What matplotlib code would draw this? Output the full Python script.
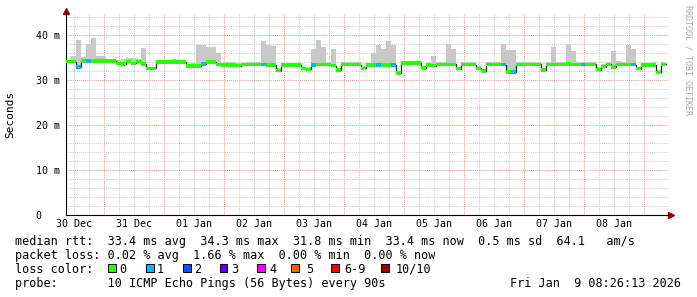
import numpy as np
import pandas as pd
import matplotlib
matplotlib.use("Agg")
import matplotlib.pyplot as plt
import matplotlib.transforms as mtransforms
from matplotlib.patches import Rectangle

# Median RTT per 2 hour bin (ms), 30 Dec 08:48 -> 09 Jan 08:48
median_ms = [
    34.1, 34.1, 32.9, 34.2, 34.2, 34.2, 34.2, 34.2, 34.2, 34.2,
    33.7, 33.6, 34.1, 33.7, 34.1, 33.6, 32.6, 32.6, 34.0, 34.0,
    34.0, 34.0, 34.0, 34.0, 33.1, 33.1, 33.1, 33.6, 34.0, 34.0,
    33.4, 33.3, 33.3, 33.3, 33.2, 33.4, 33.5, 33.5, 33.5, 33.4,
    33.3, 33.3, 32.1, 33.3, 33.3, 33.3, 33.3, 32.5, 32.4, 33.3,
    33.4, 33.4, 33.4, 33.2, 32.2, 33.4, 33.4, 33.4, 33.4, 32.6,
    33.3, 33.3, 33.3, 33.3, 33.3, 33.3, 31.6, 33.8, 33.8, 33.8,
    33.8, 32.7, 33.3, 33.2, 33.5, 33.5, 33.5, 33.5, 32.5, 33.4,
    33.4, 33.4, 32.6, 32.0, 33.5, 33.5, 33.5, 33.4, 31.8, 31.8,
    33.4, 33.4, 33.5, 33.5, 33.5, 32.2, 33.4, 33.5, 33.5, 33.5,
    33.6, 33.5, 33.5, 33.4, 33.5, 33.5, 32.3, 33.0, 33.5, 32.9,
    33.5, 33.5, 33.5, 33.4, 32.5, 33.3, 33.3, 33.3, 31.7, 33.5,
]

# Highest ping per bin (ms), the grey smoke
smoke_top_ms = [
    34.5, 35.4, 38.8, 35.1, 38.1, 39.3, 35.4, 35.3, 34.6, 34.6,
    34.4, 34.6, 34.8, 34.8, 34.6, 37.2, 33.0, 33.0, 34.5, 34.5,
    34.5, 34.6, 34.5, 34.5, 33.6, 33.7, 37.8, 37.8, 37.4, 37.4,
    36.1, 33.8, 34.1, 34.1, 33.7, 33.8, 33.9, 33.9, 33.9, 38.7,
    37.8, 37.6, 32.6, 33.8, 33.8, 33.8, 33.8, 33.0, 32.9, 37.0,
    39.0, 37.4, 33.9, 36.8, 32.7, 33.9, 33.9, 33.9, 33.9, 33.1,
    33.8, 36.1, 37.8, 37.0, 38.6, 37.8, 32.1, 34.2, 34.2, 34.2,
    34.2, 33.2, 33.8, 35.4, 34.0, 34.0, 38.0, 37.0, 33.0, 33.9,
    33.9, 34.1, 33.1, 32.5, 34.0, 34.0, 34.0, 38.1, 36.7, 36.7,
    33.9, 33.9, 34.0, 34.0, 34.0, 32.7, 33.9, 37.4, 34.0, 34.1,
    37.8, 36.5, 34.0, 33.9, 34.0, 34.1, 32.8, 33.5, 34.0, 36.5,
    34.3, 34.0, 37.8, 37.0, 33.0, 33.8, 33.8, 34.1, 32.2, 34.0,
]

# Lost pings out of 10 per bin
loss_pings = [0] * 120
for i in [2, 4, 27, 39, 49, 62, 65, 87, 89, 103, 113]:
    loss_pings[i] = 1

loss_labels = ["0", "1", "2", "3", "4", "5", "6-9", "10/10"]
loss_colors = ["#26ff00", "#00b8ff", "#0059ff", "#5e00ff",
               "#ff00ff", "#ff5e00", "#ff0000", "#a10000"]
day_labels = ["30 Dec", "31 Dec", "01 Jan", "02 Jan", "03 Jan",
              "04 Jan", "05 Jan", "06 Jan", "07 Jan", "08 Jan"]
y_ticks = [0, 10, 20, 30, 40]
y_labels = ["0   ", "10 m", "20 m", "30 m", "40 m"]

W, H = 697, 297
MONO = "DejaVu Sans Mono"


def fx(px):
    return px / W


def fy(py):
    return 1 - py / H


# time axis: hours since 30 Dec 00:00
starts = pd.date_range("2025-12-30 08:48", periods=len(median_ms), freq="2h")
t0 = pd.Timestamp("2025-12-30 00:00")
t = np.array((starts - t0) / pd.Timedelta(hours=1))
bw = 2.0

med = np.array(median_ms)
top = np.array(smoke_top_ms)
loss = np.array(loss_pings)

fig = plt.figure(figsize=(W / 100, H / 100), dpi=100)
ax = fig.add_axes([fx(66), fy(215), fx(668) - fx(66), fy(13) - fy(215)])
ax.set_xlim(8.8, 8.8 + 602 * 0.4)
ax.set_ylim(0, 44.9)

# grid
for h in np.arange(12, 241, 6):
    c = "#e89c9c" if h % 24 == 0 else "#cdcdcd"
    ax.axvline(h, color=c, lw=0.75, ls=(0, (1, 1)), zorder=1)
for v in range(2, 45, 2):
    c = "#e89c9c" if v % 10 == 0 else "#cdcdcd"
    ax.axhline(v, color=c, lw=0.75, ls=(0, (1, 1)), zorder=1)

# smoke
lo = med - 0.2
ax.bar(t, np.maximum(top, med) - lo, bottom=lo, width=bw, align="edge",
       color="#c8c8c8", lw=0, zorder=2)

# median line and loss coloured band
swidth = 0.38
t_step = np.append(t, t[-1] + bw)
ax.step(t_step, np.append(med, med[-1]), where="post", color="#202020",
        lw=0.9, zorder=3)
band_cols = [loss_colors[k] for k in loss]
ax.bar(t, 2 * swidth, bottom=med - swidth, width=bw, align="edge",
       color=band_cols, lw=0, zorder=4)

# axes
for s in ["top", "right"]:
    ax.spines[s].set_visible(False)
ax.spines["left"].set_linewidth(0.8)
ax.spines["bottom"].set_linewidth(0.8)

ax.set_yticks(y_ticks)
ax.set_yticklabels(y_labels, fontfamily=MONO, fontsize=7.2)
ax.set_xticks([12 + 24 * i for i in range(len(day_labels))])
ax.set_xticklabels(day_labels, fontfamily=MONO, fontsize=7.2)
ax.tick_params(axis="y", length=0, pad=4.5)
ax.tick_params(axis="x", length=0, pad=3)

# arrows at the axis ends
up = mtransforms.offset_copy(ax.transAxes, fig=fig, x=0, y=2.5, units="dots")
ax.plot([0], [1], marker="^", ms=4, color="#a00000", transform=up, clip_on=False)
right = mtransforms.offset_copy(ax.transAxes, fig=fig, x=2.5, y=0, units="dots")
ax.plot([1], [0], marker=">", ms=4, color="#a00000", transform=right, clip_on=False)

fig.text(fx(10), fy(114), "Seconds", rotation=90, ha="center", va="center",
         fontfamily=MONO, fontsize=8)
fig.text(fx(688), fy(5), "RRDTOOL / TOBI OETIKER", rotation=270, ha="center",
         va="top", fontfamily=MONO, fontsize=6, color="#a8a8a8")

# legend
fs = 8.5
fig.text(fx(15), fy(245),
         "median rtt:  33.4 ms avg  34.3 ms max  31.8 ms min  33.4 ms now  0.5 ms sd  64.1   am/s",
         fontfamily=MONO, fontsize=fs, va="baseline")
fig.text(fx(15), fy(259),
         "packet loss: 0.02 % avg  1.66 % max  0.00 % min  0.00 % now",
         fontfamily=MONO, fontsize=fs, va="baseline")
fig.text(fx(15), fy(273), "loss color:", fontfamily=MONO, fontsize=fs, va="baseline")
box_x = [108, 146, 183, 220, 257, 291, 331, 381]
lab_x = [119, 157, 194, 231, 269, 306, 344, 396]
for bx, lx, lab, col in zip(box_x, lab_x, loss_labels, loss_colors):
    fig.add_artist(Rectangle((fx(bx), fy(272)), 7.5 / W, 7.7 / H,
                             transform=fig.transFigure, facecolor=col,
                             edgecolor="black", lw=0.7))
    fig.text(fx(lx), fy(273), lab, fontfamily=MONO, fontsize=fs, va="baseline")
fig.text(fx(15), fy(287), "probe:       10 ICMP Echo Pings (56 Bytes) every 90s",
         fontfamily=MONO, fontsize=fs, va="baseline")
fig.text(fx(681), fy(287), "Fri Jan  9 08:26:13 2026", ha="right",
         fontfamily=MONO, fontsize=fs, va="baseline")

fig.savefig("out.png", dpi=100)
